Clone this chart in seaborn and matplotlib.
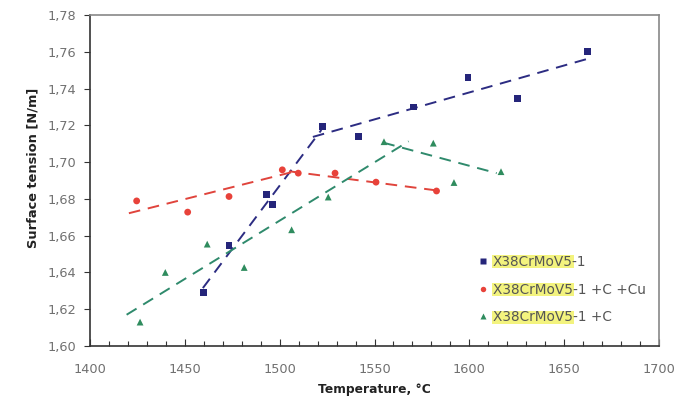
import matplotlib
matplotlib.use("Agg")
import matplotlib.pyplot as plt
import seaborn as sns
import pandas as pd
import numpy as np
from matplotlib.patches import Rectangle
from matplotlib.ticker import MultipleLocator, FuncFormatter

# ---- data ----
t_base = [1459.7, 1473.3, 1493.1, 1496.3, 1522.7, 1541.6, 1570.4, 1599.3, 1625.5, 1662.2]
s_base = [1.629, 1.6545, 1.6825, 1.677, 1.7195, 1.714, 1.730, 1.746, 1.7347, 1.760]

t_cu = [1424.6, 1451.5, 1473.3, 1501.4, 1509.8, 1529.2, 1550.8, 1582.7]
s_cu = [1.6789, 1.6728, 1.6813, 1.6958, 1.694, 1.694, 1.6891, 1.6843]

t_c = [1426.4, 1439.7, 1461.8, 1481.3, 1506.3, 1525.6, 1555.0, 1581.0, 1591.9, 1616.7]
s_c = [1.613, 1.640, 1.6554, 1.6427, 1.6632, 1.681, 1.7111, 1.7103, 1.6889, 1.6948]

# trend line endpoints
fit_base_1_t = [1459.5, 1522.0]
fit_base_1_s = [1.6315, 1.7175]
fit_base_2_t = [1517.5, 1664.5]
fit_base_2_s = [1.7137, 1.7568]
fit_cu_1_t = [1420.5, 1509.0]
fit_cu_1_s = [1.6722, 1.6952]
fit_cu_2_t = [1505.0, 1585.0]
fit_cu_2_s = [1.6950, 1.6843]
fit_c_1_t = [1419.3, 1568.0]
fit_c_1_s = [1.6170, 1.7113]
fit_c_2_t = [1554.6, 1614.4]
fit_c_2_s = [1.7106, 1.6940]

labels = ["X38CrMoV5-1", "X38CrMoV5-1 +C +Cu", "X38CrMoV5-1 +C"]
highlight = "X38CrMoV5"

# ---- style ----
sns.set_style("white")
plt.rcParams["font.family"] = ["DejaVu Sans"]

c_blue = "#25257a"
c_red = "#e8423a"
c_green = "#2f8c5e"
l_blue = "#2c2c82"
l_red = "#e0443c"
l_green = "#2f8a6c"

fig = plt.figure(figsize=(6.91, 4.01), dpi=100)
ax = fig.add_axes([90 / 691, 1 - 346 / 401, (659 - 90) / 691, (346 - 15) / 401])

dash = (0, (6, 4))
for tt, ss, col in [
    (fit_base_1_t, fit_base_1_s, l_blue), (fit_base_2_t, fit_base_2_s, l_blue),
    (fit_cu_1_t, fit_cu_1_s, l_red), (fit_cu_2_t, fit_cu_2_s, l_red),
    (fit_c_1_t, fit_c_1_s, l_green), (fit_c_2_t, fit_c_2_s, l_green),
]:
    sns.lineplot(x=tt, y=ss, ax=ax, color=col, linewidth=1.4, linestyle=dash,
                 sort=False, estimator=None, zorder=2)

df = pd.concat([
    pd.DataFrame({"T": t_base, "S": s_base, "grp": labels[0]}),
    pd.DataFrame({"T": t_cu, "S": s_cu, "grp": labels[1]}),
    pd.DataFrame({"T": t_c, "S": s_c, "grp": labels[2]}),
])
sns.scatterplot(data=df, x="T", y="S", hue="grp", style="grp",
                palette={labels[0]: c_blue, labels[1]: c_red, labels[2]: c_green},
                markers={labels[0]: "s", labels[1]: "o", labels[2]: "^"},
                s=24, edgecolor="none", ax=ax, zorder=3, legend=True)

ax.set_xlim(1400, 1700)
ax.set_ylim(1.60, 1.78)
ax.xaxis.set_major_locator(MultipleLocator(50))
ax.xaxis.set_minor_locator(MultipleLocator(10))
ax.yaxis.set_major_locator(MultipleLocator(0.02))
ax.yaxis.set_major_formatter(FuncFormatter(lambda v, p: f"{v:.2f}".replace(".", ",")))

ax.tick_params(axis="x", which="both", direction="in", bottom=True, top=False,
               width=0.8, colors="#333333", labelcolor="#707070", labelsize=9.3, pad=12)
ax.tick_params(axis="x", which="major", length=5)
ax.tick_params(axis="x", which="minor", length=3.5)
ax.tick_params(axis="y", which="major", direction="out", length=4, width=0.8,
               colors="#333333", labelcolor="#707070", labelsize=9.3, left=True, pad=6)

for side in ["left", "bottom"]:
    ax.spines[side].set_color("#333333")
    ax.spines[side].set_linewidth(1.2)
for side in ["top", "right"]:
    ax.spines[side].set_color("#888888")
    ax.spines[side].set_linewidth(1.2)

ax.set_xlabel("Temperature, \u00b0C", fontsize=8.8, fontweight="bold", color="#222222", labelpad=5)
ax.set_ylabel("Surface tension [N/m]", fontsize=9.4, fontweight="bold", color="#222222")
ax.yaxis.set_label_coords(-(90 - 39) / 569, (346 - 168) / 331)

handles, labs = ax.get_legend_handles_labels()
leg = ax.legend(handles, labs, loc="upper left", bbox_to_anchor=(0.683, 0.275),
                frameon=False, fontsize=9.8, handletextpad=0.45, handlelength=0.6,
                labelspacing=1.0, markerscale=0.8, borderpad=0, borderaxespad=0)
for t in leg.get_texts():
    t.set_color("#555555")
leg.set_zorder(6)

# yellow highlight behind the "X38CrMoV5" part of each legend label
fig.canvas.draw()
renderer = fig.canvas.get_renderer()
for t in leg.get_texts():
    bb = t.get_window_extent(renderer)
    tmp = fig.text(0, 0, highlight, fontproperties=t.get_fontproperties())
    w = tmp.get_window_extent(renderer).width
    tmp.remove()
    x0, y0 = bb.x0, bb.y0
    inv = ax.transAxes.inverted()
    (ax0, ay0), (ax1, ay1) = inv.transform([(x0 - 1, y0 + 0.5), (x0 + w + 1, bb.y1 - 0.5)])
    ax.add_patch(Rectangle((ax0, ay0), ax1 - ax0, ay1 - ay0, transform=ax.transAxes,
                           facecolor="#f3f37e", edgecolor="none", zorder=5.5))

fig.savefig("out.png", dpi=100)
